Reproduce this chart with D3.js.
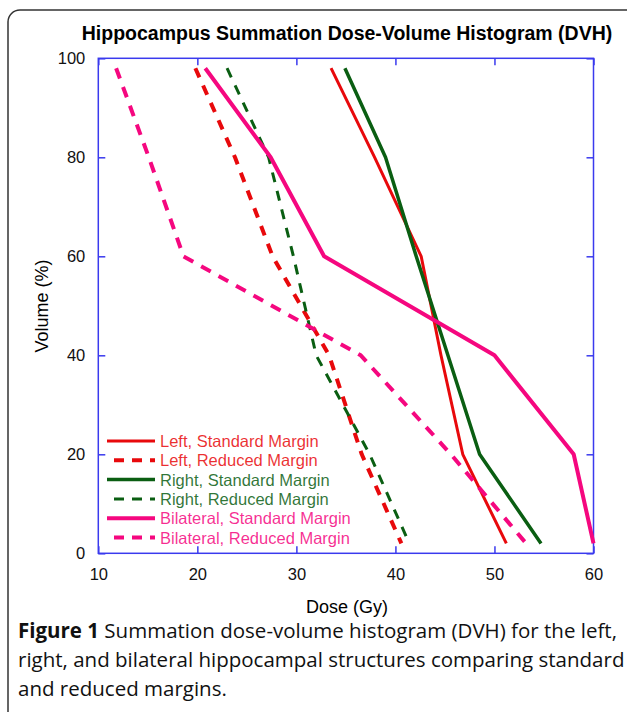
<!DOCTYPE html>
<html>
<head>
<meta charset="utf-8">
<script src="https://cdn.jsdelivr.net/npm/d3@7"></script>
<style>
  body { margin: 0; background: #fff; }
  svg { display: block; }
</style>
</head>
<body>
<svg width="627" height="712"></svg>
<script>
// volume levels (%) where dose was read
var volumes = [98, 80, 60, 40, 20, 2];

// dose (Gy) per series at each volume level
var leftStandard = [33.5, 37.9, 42.6, 44.6, 46.8, 51.2];
var leftReduced = [19.8, 23.8, 27.6, 33.3, 36.6, 40.6];
var rightStandard = [34.9, 39.0, 42.1, 45.3, 48.5, 54.7];
var rightReduced = [23.0, 27.2, 29.7, 32.0, 37.4, 41.4];
var bilatStandard = [20.8, 27.4, 32.8, 50.0, 58.0, 60.0];
var bilatReduced = [11.8, 15.1, 18.6, 36.5, 45.6, 53.2];

var seriesNames = ['Left, Standard Margin', 'Left, Reduced Margin',
  'Right, Standard Margin', 'Right, Reduced Margin',
  'Bilateral, Standard Margin', 'Bilateral, Reduced Margin'];

var xTicks = [10, 20, 30, 40, 50, 60];
var yTicks = [0, 20, 40, 60, 80, 100];

var series = [
  { name: seriesNames[0], dose: leftStandard, color: '#e8090c', width: 3, dash: null },
  { name: seriesNames[1], dose: leftReduced, color: '#e8090c', width: 4, dash: '10,9' },
  { name: seriesNames[2], dose: rightStandard, color: '#0a5e12', width: 3.5, dash: null },
  { name: seriesNames[3], dose: rightReduced, color: '#0a5e12', width: 3, dash: '10,9' },
  { name: seriesNames[4], dose: bilatStandard, color: '#f5077f', width: 4, dash: null },
  { name: seriesNames[5], dose: bilatReduced, color: '#f5077f', width: 4, dash: '11,9' }
];

var svg = d3.select('svg');
var axisBlue = '#3a3aee';
var font = '"Liberation Sans", Arial, sans-serif';

// outer figure frame
svg.append('rect')
  .attr('x', 8).attr('y', 10)
  .attr('width', 640).attr('height', 740)
  .attr('rx', 12)
  .attr('fill', 'none')
  .attr('stroke', '#333')
  .attr('stroke-width', 1.5);

var x = d3.scaleLinear().domain([10, 60]).range([98.3, 593.5]);
var y = d3.scaleLinear().domain([0, 100]).range([553.3, 58.3]);

svg.append('text')
  .attr('x', 347).attr('y', 40)
  .attr('text-anchor', 'middle')
  .attr('font-family', font)
  .attr('font-weight', 'bold')
  .attr('font-size', 19.5)
  .text('Hippocampus Summation Dose-Volume Histogram (DVH)');

// axes, ticks pointing inward on all four sides
var styleAxis = function(g) {
  g.select('.domain').remove();
  g.selectAll('line').attr('stroke', axisBlue).attr('stroke-width', 1.5);
  g.selectAll('text').attr('font-family', font).attr('font-size', 16.5).attr('fill', '#111');
};

svg.append('g')
  .attr('transform', 'translate(0,' + y(0) + ')')
  .call(d3.axisBottom(x).tickValues(xTicks).tickSizeInner(-7).tickSizeOuter(0).tickPadding(15))
  .call(styleAxis);

svg.append('g')
  .attr('transform', 'translate(0,' + y(100) + ')')
  .call(d3.axisTop(x).tickValues(xTicks).tickSizeInner(-7).tickSizeOuter(0).tickFormat(''))
  .call(styleAxis);

svg.append('g')
  .attr('transform', 'translate(' + x(10) + ',0)')
  .call(d3.axisLeft(y).tickValues(yTicks).tickSizeInner(-7).tickSizeOuter(0).tickPadding(13))
  .call(styleAxis);

svg.append('g')
  .attr('transform', 'translate(' + x(60) + ',0)')
  .call(d3.axisRight(y).tickValues(yTicks).tickSizeInner(-7).tickSizeOuter(0).tickFormat(''))
  .call(styleAxis);

svg.append('rect')
  .attr('x', x(10)).attr('y', y(100))
  .attr('width', x(60) - x(10)).attr('height', y(0) - y(100))
  .attr('fill', 'none')
  .attr('stroke', axisBlue)
  .attr('stroke-width', 1.5);

// axis titles
svg.append('text')
  .attr('x', 347).attr('y', 613)
  .attr('text-anchor', 'middle')
  .attr('font-family', font).attr('font-size', 18)
  .text('Dose (Gy)');

svg.append('text')
  .attr('transform', 'translate(48,306) rotate(-90)')
  .attr('text-anchor', 'middle')
  .attr('font-family', font).attr('font-size', 18)
  .text('Volume (%)');

// the curves
var line = d3.line()
  .x(function(d) { return x(d.dose); })
  .y(function(d) { return y(d.vol); });

var plot = svg.append('g');

plot.selectAll('path.curve')
  .data(series)
  .enter().append('path')
  .attr('class', 'curve')
  .attr('d', function(s) {
    return line(s.dose.map(function(v, i) { return { dose: v, vol: volumes[i] }; }));
  })
  .attr('fill', 'none')
  .attr('stroke', function(s) { return s.color; })
  .attr('stroke-width', function(s) { return s.width; })
  .attr('stroke-dasharray', function(s) { return s.dash; })
  .attr('stroke-linejoin', 'round');

// legend, bottom left inside the plot
var legend = svg.append('g').attr('transform', 'translate(107,441)');

var rows = legend.selectAll('g')
  .data(series)
  .enter().append('g')
  .attr('transform', function(d, i) { return 'translate(0,' + (i * 19.3) + ')'; });

rows.append('line')
  .attr('x1', function(d) { return d.dash ? 7 : 0; })
  .attr('x2', 48)
  .attr('y1', 0).attr('y2', 0)
  .attr('stroke', function(d) { return d.color; })
  .attr('stroke-width', function(d) { return d.width; })
  .attr('stroke-dasharray', function(d) { return d.dash ? '10,8' : null; });

rows.append('text')
  .attr('x', 53).attr('y', 6)
  .attr('font-family', font).attr('font-size', 16.5)
  .attr('fill', function(d) { return d.color; })
  .attr('fill-opacity', 0.85)
  .text(function(d) { return d.name; });

// caption
var captionFont = '"Open Sans", "Noto Sans", sans-serif';
var cap = svg.append('text')
  .attr('font-family', captionFont).attr('font-size', 20.5).attr('fill', '#111');

cap.append('tspan').attr('x', 18).attr('y', 638)
  .attr('font-weight', 'bold').text('Figure 1');
cap.append('tspan')
  .text(' Summation dose-volume histogram (DVH) for the left,');
cap.append('tspan').attr('x', 18).attr('y', 667)
  .text('right, and bilateral hippocampal structures comparing standard');
cap.append('tspan').attr('x', 18).attr('y', 696)
  .text('and reduced margins.');
</script>
</body>
</html>
